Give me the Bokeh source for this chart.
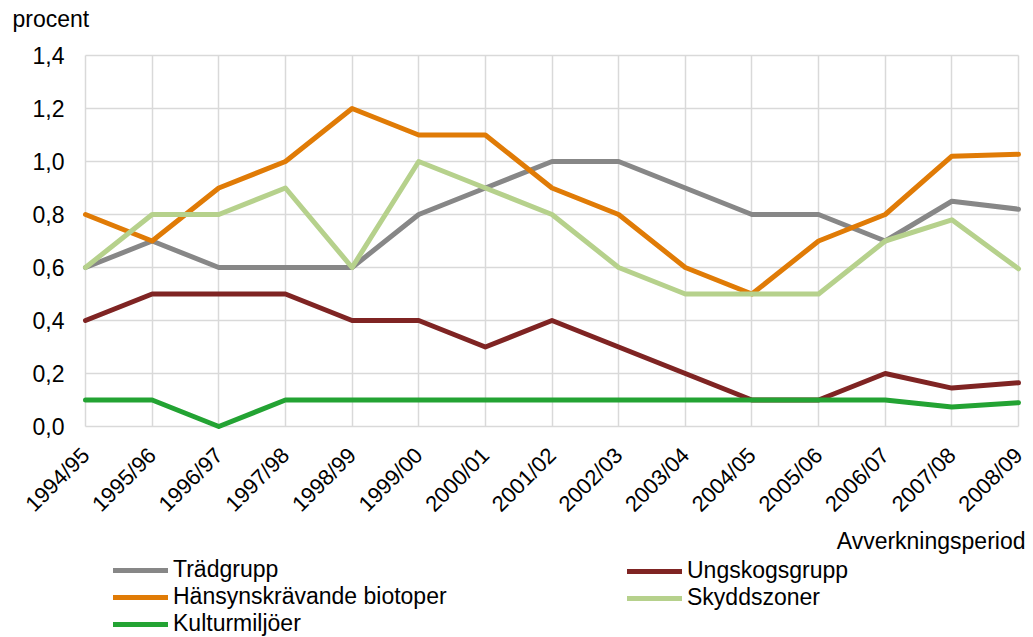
import math
from bokeh.plotting import figure
from bokeh.models import (FixedTicker, CustomJSTickFormatter, Legend, LegendItem, Label, Range1d)
from bokeh.embed import file_html
from bokeh.resources import INLINE

periods = ["1994/95", "1995/96", "1996/97", "1997/98", "1998/99", "1999/00", "2000/01",
           "2001/02", "2002/03", "2003/04", "2004/05", "2005/06", "2006/07", "2007/08", "2008/09"]

tradgrupp = [0.6, 0.7, 0.6, 0.6, 0.6, 0.8, 0.9, 1.0, 1.0, 0.9, 0.8, 0.8, 0.7, 0.85, 0.82]
ungskogsgrupp = [0.4, 0.5, 0.5, 0.5, 0.4, 0.4, 0.3, 0.4, 0.3, 0.2, 0.1, 0.1, 0.2, 0.145, 0.165]
hansyn = [0.8, 0.7, 0.9, 1.0, 1.2, 1.1, 1.1, 0.9, 0.8, 0.6, 0.5, 0.7, 0.8, 1.02, 1.027]
skyddszoner = [0.6, 0.8, 0.8, 0.9, 0.6, 1.0, 0.9, 0.8, 0.6, 0.5, 0.5, 0.5, 0.7, 0.78, 0.595]
kulturmiljoer = [0.1, 0.1, 0.0, 0.1, 0.1, 0.1, 0.1, 0.1, 0.1, 0.1, 0.1, 0.1, 0.1, 0.074, 0.09]

y_ticks = [0.0, 0.2, 0.4, 0.6, 0.8, 1.0, 1.2, 1.4]

FONT = "Liberation Sans"
FS = "23px"
GRID = "#D9D9D9"

# canvas and plot-area geometry (pixels)
W, H = 1033, 637
LEFT, RIGHT, TOP, ZERO_Y = 85, 1018, 55, 426

xs = list(range(len(periods)))
x_last = xs[-1]
y_top = y_ticks[-1]
# the frame covers the whole canvas; ranges are chosen so that the data area sits at the box above
px_x = x_last / (RIGHT - LEFT)
px_y = y_top / (ZERO_Y - TOP)
x_range = Range1d(-LEFT * px_x, x_last + (W - RIGHT) * px_x)
y_range = Range1d(-(H - ZERO_Y) * px_y, y_top + TOP * px_y)

p = figure(width=W, height=H, output_backend="svg", toolbar_location=None,
           x_range=x_range, y_range=y_range,
           min_border=0, min_border_left=0, min_border_right=0,
           min_border_top=0, min_border_bottom=0)
p.outline_line_color = None
p.background_fill_color = "white"
p.border_fill_color = "white"

# axes (drawn at the data origin, inside the frame)
p.xaxis.fixed_location = 0
p.xaxis.ticker = FixedTicker(ticks=xs)
p.xaxis.major_label_overrides = {i: lab for i, lab in enumerate(periods)}
p.xaxis.major_label_orientation = math.pi / 4
p.xaxis.major_label_standoff = 19
p.yaxis.fixed_location = 0
p.yaxis.ticker = FixedTicker(ticks=y_ticks)
p.yaxis.formatter = CustomJSTickFormatter(code="return tick.toFixed(1).replace('.', ',');")
p.yaxis.major_label_standoff = 15
for ax in (p.xaxis, p.yaxis):
    ax.axis_line_color = None
    ax.major_tick_line_color = None
    ax.minor_tick_line_color = None
    ax.major_label_text_font = FONT
    ax.major_label_text_font_size = FS
    ax.major_label_text_color = "#000000"
p.xaxis.major_label_text_font_size = "22px"

p.xgrid.ticker = FixedTicker(ticks=xs)
p.xgrid.cross_bounds = (0, y_top)
p.ygrid.ticker = FixedTicker(ticks=y_ticks)
p.ygrid.cross_bounds = (0, x_last)
for g in (p.xgrid, p.ygrid):
    g.grid_line_color = GRID
    g.grid_line_width = 1.5

series = [
    ("Trädgrupp", tradgrupp, "#878787"),
    ("Ungskogsgrupp", ungskogsgrupp, "#7F2423"),
    ("Hänsynskrävande biotoper", hansyn, "#E07B06"),
    ("Skyddszoner", skyddszoner, "#B6D18C"),
    ("Kulturmiljöer", kulturmiljoer, "#23A333"),
]
renderers = {}
for name, vals, col in series:
    renderers[name] = p.line(xs, vals, line_color=col, line_width=5,
                             line_join="round", line_cap="round")

def make_legend(names, loc):
    return Legend(items=[LegendItem(label=n, renderers=[renderers[n]]) for n in names],
                  location=loc, orientation="vertical",
                  glyph_width=55, glyph_height=26, label_height=26, label_width=10,
                  label_standoff=5, spacing=0, padding=0, margin=0,
                  border_line_color=None, background_fill_alpha=0,
                  label_text_font=FONT, label_text_font_size=FS, label_text_color="#000000")

p.add_layout(make_legend(["Trädgrupp", "Hänsynskrävande biotoper", "Kulturmiljöer"], (113, 0)))
p.add_layout(make_legend(["Ungskogsgrupp", "Skyddszoner"], (627, 26)))

p.add_layout(Label(x=12, y=H - 18, x_units="screen", y_units="screen",
                   text="procent", text_font=FONT, text_font_size=FS,
                   text_baseline="middle", text_align="left", text_color="#000000"))
p.add_layout(Label(x=1025, y=H - 540, x_units="screen", y_units="screen",
                   text="Avverkningsperiod", text_font=FONT, text_font_size=FS,
                   text_baseline="middle", text_align="right", text_color="#000000"))

open("out.html", "w").write(file_html(p, INLINE))
